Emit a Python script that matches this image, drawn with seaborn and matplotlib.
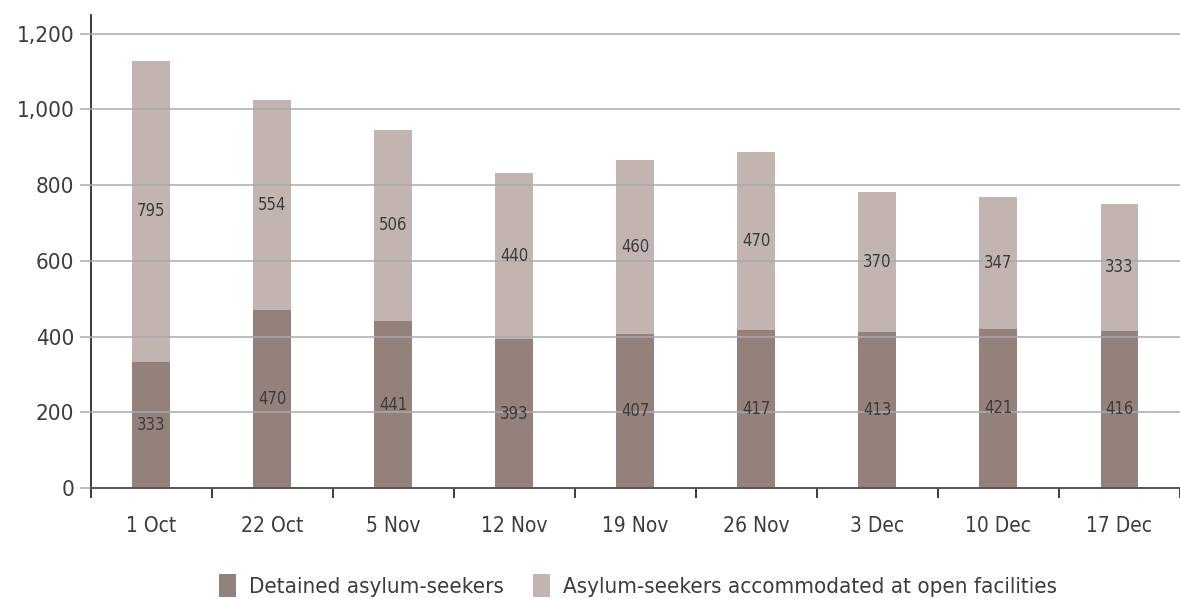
import matplotlib
matplotlib.use("Agg")
import matplotlib.pyplot as plt
import seaborn as sns
import pandas as pd
import numpy as np
from matplotlib.patches import Patch
from matplotlib.ticker import FuncFormatter, FixedLocator

dates = ["1 Oct", "22 Oct", "5 Nov", "12 Nov", "19 Nov", "26 Nov", "3 Dec", "10 Dec", "17 Dec"]
detained = [333, 470, 441, 393, 407, 417, 413, 421, 416]
open_fac = [795, 554, 506, 440, 460, 470, 370, 347, 333]
series_names = ["Detained asylum-seekers", "Asylum-seekers accommodated at open facilities"]

DARK = "#94817c"
LIGHT = "#c1b4b1"
GRID = "#a9abae"
TXT = "#3c3c3c"

sns.set_theme(style="white")
plt.rcParams["font.family"] = ["DejaVu Sans"]
plt.rcParams["font.stretch"] = "condensed"

df = pd.DataFrame({"date": dates, "detained": detained, "open": open_fac})

fig = plt.figure(figsize=(11.8, 5.99), dpi=100)
ax = fig.add_axes([0.0771, 0.1853, 0.9229, 0.79])

sns.barplot(data=df, x="date", y="detained", color=DARK, width=0.314,
            saturation=1, ax=ax, zorder=1, linewidth=0, edgecolor="none")
sns.barplot(data=df, x="date", y="open", bottom=df["detained"].values, color=LIGHT,
            width=0.314, saturation=1, ax=ax, zorder=1, linewidth=0, edgecolor="none")

ax.set_ylim(0, 1250)
ax.set_xlim(-0.5, len(dates) - 0.5)
ax.yaxis.set_major_locator(FixedLocator([0, 200, 400, 600, 800, 1000, 1200]))
ax.yaxis.set_major_formatter(FuncFormatter(lambda v, p: f"{int(v):,}"))
ax.grid(axis="y", color=GRID, linewidth=1.1)
ax.set_axisbelow(False)
for gl in ax.get_ygridlines():
    gl.set_zorder(2)

ax.set_xlabel("")
ax.set_ylabel("")

for s in ["top", "right"]:
    ax.spines[s].set_visible(False)
ax.spines["left"].set_color("#1a1a1a")
ax.spines["left"].set_linewidth(1.2)
ax.spines["bottom"].set_color("#555555")
ax.spines["bottom"].set_linewidth(1.4)
ax.spines["bottom"].set_zorder(3)

ax.tick_params(axis="y", which="major", left=True, length=8, color=GRID, width=1.1,
               labelsize=16, labelcolor=TXT, pad=4)
ax.tick_params(axis="x", which="major", bottom=False, length=0, labelsize=15,
               labelcolor=TXT, pad=20)
ax.set_xticks(range(len(dates)))
ax.set_xticklabels(dates)
ax.xaxis.set_minor_locator(FixedLocator(np.arange(-0.5, len(dates), 1.0)))
ax.tick_params(axis="x", which="minor", bottom=True, length=7, width=1.2,
               color="#1a1a1a", direction="out")

for i, (d, o) in enumerate(zip(detained, open_fac)):
    ax.text(i, d / 2, f"{d}", ha="center", va="center", fontsize=12, color=TXT, zorder=4)
    ax.text(i, d + o / 2, f"{o}", ha="center", va="center", fontsize=12, color=TXT, zorder=4)

handles = [Patch(facecolor=DARK, edgecolor="none"), Patch(facecolor=LIGHT, edgecolor="none")]
fig.legend(handles, series_names, loc="lower center", bbox_to_anchor=(0.541, -0.03), ncol=2,
           frameon=False, fontsize=16, handlelength=0.75, handleheight=1.2,
           handletextpad=0.6, columnspacing=1.3, labelcolor=TXT)

fig.savefig("out.png", dpi=100)
